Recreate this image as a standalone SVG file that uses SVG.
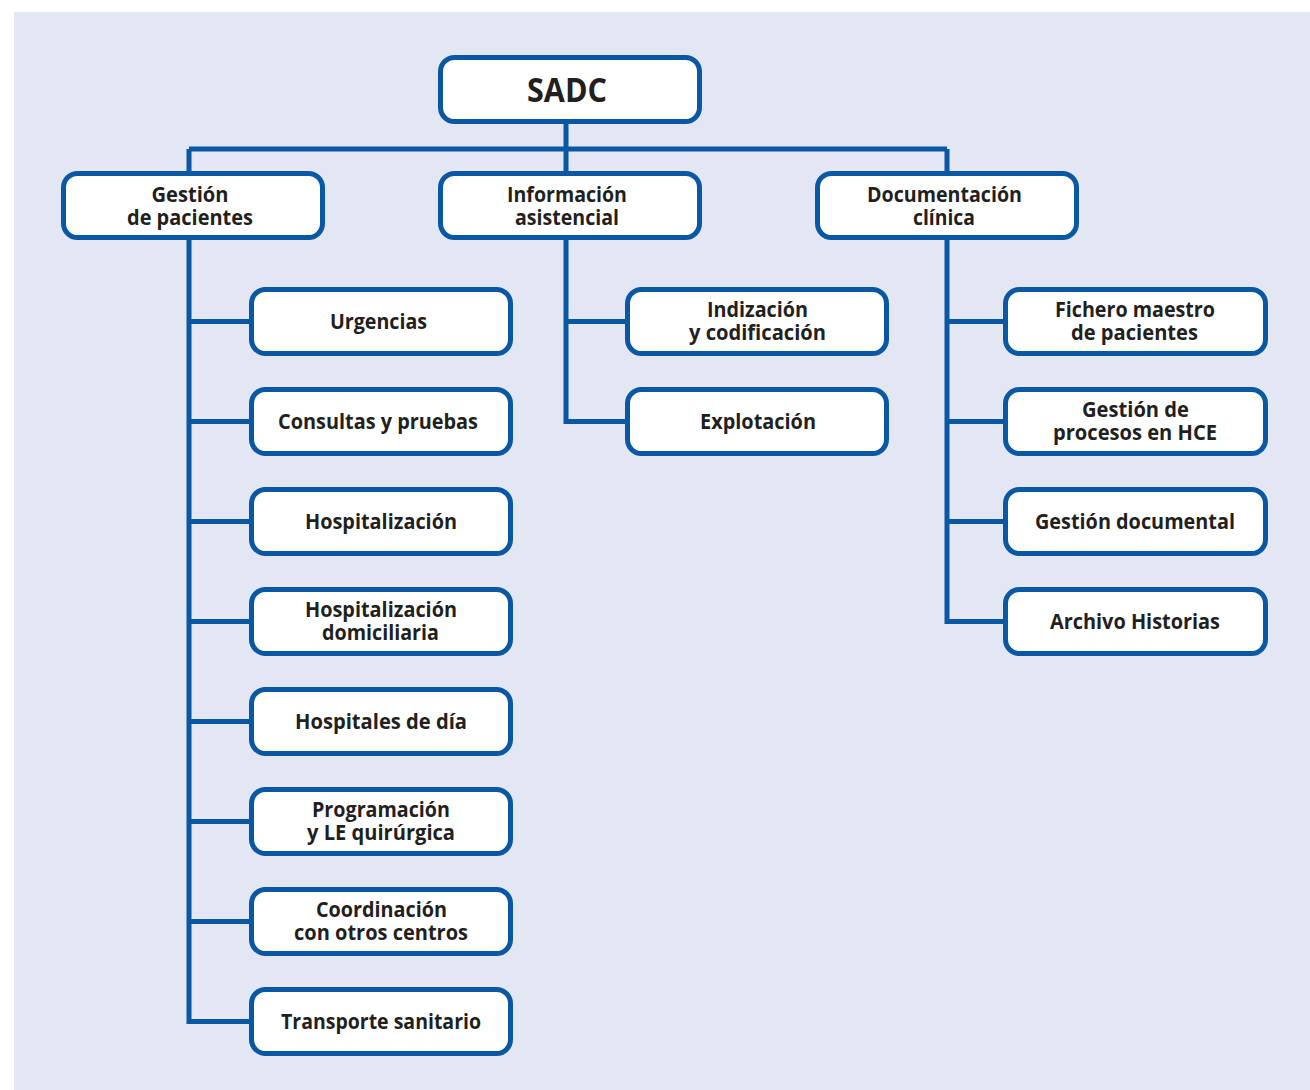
<svg xmlns="http://www.w3.org/2000/svg" width="1310" height="1090" viewBox="0 0 1310 1090">
<style>
.bx{fill:#fff;stroke:#0a57a4;stroke-width:5}
.ln{fill:none;stroke:#0a57a4;stroke-width:5;stroke-linejoin:miter}
text{font-family:"Open Sans","Noto Sans",sans-serif;font-weight:700;font-size:21px;fill:#231f20;text-anchor:middle}
.big{font-size:34px;font-weight:700}
</style>
<rect x="0" y="0" width="1310" height="1090" fill="#fff"/>
<rect x="14" y="12" width="1296" height="1078" fill="#e3e7f3"/>
<g id="connectors">
<path class="ln" d="M566 123V173.5M189 149H947M189 149V1021.5H251.5M947 149V173.5"/>
<path class="ln" d="M189 321.5H251.5M189 421.5H251.5M189 521.5H251.5M189 621.5H251.5M189 721.5H251.5M189 821.5H251.5M189 921.5H251.5"/>
<path class="ln" d="M566 237V421.5H627.5M566 321.5H627.5"/>
<path class="ln" d="M947 237V621.5H1005.5M947 321.5H1005.5M947 421.5H1005.5M947 521.5H1005.5"/>
</g>
<g id="sadc"><rect class="bx" x="440.5" y="57.5" width="259" height="64" rx="14"/><text class="big" x="567" y="102" textLength="80" lengthAdjust="spacingAndGlyphs">SADC</text></g>
<g id="gestion-pacientes"><rect class="bx" x="63.5" y="173.5" width="259" height="64" rx="14"/><text x="190" y="201.5" textLength="77" lengthAdjust="spacingAndGlyphs">Gestión</text><text x="190" y="224.5" textLength="126" lengthAdjust="spacingAndGlyphs">de pacientes</text></g>
<g id="informacion-asistencial"><rect class="bx" x="440.5" y="173.5" width="259" height="64" rx="14"/><text x="567" y="201.5" textLength="120" lengthAdjust="spacingAndGlyphs">Información</text><text x="567" y="224.5" textLength="104" lengthAdjust="spacingAndGlyphs">asistencial</text></g>
<g id="documentacion-clinica"><rect class="bx" x="817.5" y="173.5" width="259" height="64" rx="14"/><text x="944.5" y="201.5" textLength="155" lengthAdjust="spacingAndGlyphs">Documentación</text><text x="944" y="224.5" textLength="62" lengthAdjust="spacingAndGlyphs">clínica</text></g>
<g id="urgencias"><rect class="bx" x="251.5" y="289.5" width="259" height="64" rx="14"/><text x="378.5" y="328.5" textLength="97" lengthAdjust="spacingAndGlyphs">Urgencias</text></g>
<g id="consultas"><rect class="bx" x="251.5" y="389.5" width="259" height="64" rx="14"/><text x="378" y="428.5" textLength="200" lengthAdjust="spacingAndGlyphs">Consultas y pruebas</text></g>
<g id="hospitalizacion"><rect class="bx" x="251.5" y="489.5" width="259" height="64" rx="14"/><text x="381" y="528.5" textLength="152" lengthAdjust="spacingAndGlyphs">Hospitalización</text></g>
<g id="hospitalizacion-domiciliaria"><rect class="bx" x="251.5" y="589.5" width="259" height="64" rx="14"/><text x="381" y="617" textLength="152" lengthAdjust="spacingAndGlyphs">Hospitalización</text><text x="380.5" y="640" textLength="117" lengthAdjust="spacingAndGlyphs">domiciliaria</text></g>
<g id="hospitales-dia"><rect class="bx" x="251.5" y="689.5" width="259" height="64" rx="14"/><text x="381" y="728.5" textLength="172" lengthAdjust="spacingAndGlyphs">Hospitales de día</text></g>
<g id="programacion"><rect class="bx" x="251.5" y="789.5" width="259" height="64" rx="14"/><text x="381" y="817" textLength="138" lengthAdjust="spacingAndGlyphs">Programación</text><text x="381" y="840" textLength="148" lengthAdjust="spacingAndGlyphs">y LE quirúrgica</text></g>
<g id="coordinacion"><rect class="bx" x="251.5" y="889.5" width="259" height="64" rx="14"/><text x="381.5" y="917" textLength="131" lengthAdjust="spacingAndGlyphs">Coordinación</text><text x="381" y="940" textLength="174" lengthAdjust="spacingAndGlyphs">con otros centros</text></g>
<g id="transporte"><rect class="bx" x="251.5" y="989.5" width="259" height="64" rx="14"/><text x="381" y="1028.5" textLength="200" lengthAdjust="spacingAndGlyphs">Transporte sanitario</text></g>
<g id="indizacion"><rect class="bx" x="627.5" y="289.5" width="259" height="64" rx="14"/><text x="757.5" y="317" textLength="101" lengthAdjust="spacingAndGlyphs">Indización</text><text x="757.5" y="340" textLength="137" lengthAdjust="spacingAndGlyphs">y codificación</text></g>
<g id="explotacion"><rect class="bx" x="627.5" y="389.5" width="259" height="64" rx="14"/><text x="758" y="428.5" textLength="116" lengthAdjust="spacingAndGlyphs">Explotación</text></g>
<g id="fichero"><rect class="bx" x="1005.5" y="289.5" width="260" height="64" rx="14"/><text x="1135" y="317" textLength="160" lengthAdjust="spacingAndGlyphs">Fichero maestro</text><text x="1134.5" y="340" textLength="127" lengthAdjust="spacingAndGlyphs">de pacientes</text></g>
<g id="gestion-procesos"><rect class="bx" x="1005.5" y="389.5" width="260" height="64" rx="14"/><text x="1135.5" y="417" textLength="107" lengthAdjust="spacingAndGlyphs">Gestión de</text><text x="1135" y="440" textLength="164" lengthAdjust="spacingAndGlyphs">procesos en HCE</text></g>
<g id="gestion-documental"><rect class="bx" x="1005.5" y="489.5" width="260" height="64" rx="14"/><text x="1135" y="528.5" textLength="200" lengthAdjust="spacingAndGlyphs">Gestión documental</text></g>
<g id="archivo"><rect class="bx" x="1005.5" y="589.5" width="260" height="64" rx="14"/><text x="1135" y="628.5" textLength="170" lengthAdjust="spacingAndGlyphs">Archivo Historias</text></g>
</svg>
